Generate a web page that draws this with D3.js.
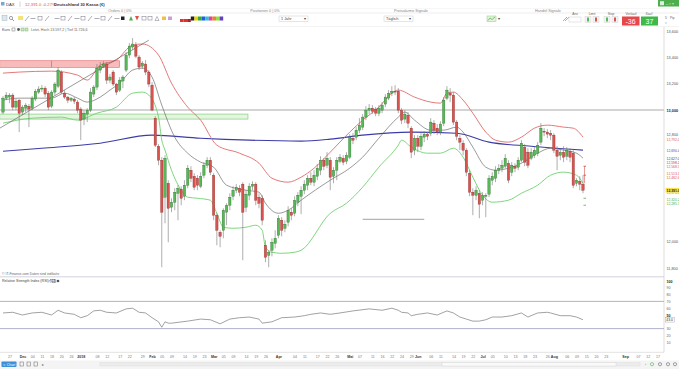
<!DOCTYPE html>
<html><head><meta charset="utf-8">
<script src="https://cdn.jsdelivr.net/npm/d3@7"></script>
<style>
html,body{margin:0;padding:0;background:#fff;overflow:hidden}
svg{display:block;font-family:"Liberation Sans",Arial,sans-serif}
</style></head><body>
<svg id="c" width="679" height="369"></svg>
<script>
// ---------------- DATA ----------------
const open = [12984,13090,13098,13113,13022,13075,12984,13014,13029,13014,
13083,13136,13159,13166,13128,13029,13136,13181,13288,13128,
13098,13075,13083,13060,13007,12931,12969,12999,13121,13174,
13303,13333,13349,13227,13288,13197,13151,13220,13303,13417,
13478,13493,13402,13333,13349,13288,13189,12938,12725,12619,
12338,12444,12262,12300,12368,12399,12345,12429,12543,12497,
12482,12421,12505,12581,12619,12505,12201,12072,12087,12224,
12277,12345,12391,12406,12437,12262,12353,12421,12437,12338,
12330,11973,11897,11935,11988,12049,12163,12102,12148,12224,
12216,12300,12345,12391,12429,12482,12452,12497,12543,12619,
12581,12619,12497,12543,12611,12634,12611,12642,12786,12794,
12847,12870,12946,12999,13014,13007,12976,12999,13045,13090,
13128,13143,13143,12999,12931,12961,12862,12695,12786,12725,
12794,12817,12824,12900,12862,12832,12900,13090,13128,13113,
12908,12786,12748,12695,12520,12376,12353,12368,12315,12345,
12361,12467,12482,12543,12558,12573,12596,12528,12573,12566,
12619,12718,12680,12634,12657,12672,12756,12839,12832,12824,
12809,12695,12657,12680,12649,12687,12672,12444,12459,12437];
const close = [13090,13113,13113,13022,13067,12976,13022,13037,13007,13090,
13143,13159,13166,13121,13022,13136,13197,13303,13136,13098,
13075,13090,13067,12999,12923,12976,12999,13136,13174,13318,
13333,13349,13227,13250,13197,13136,13227,13250,13417,13485,
13501,13409,13326,13356,13288,13197,12999,12733,12619,12224,
12634,12254,12300,12376,12406,12330,12429,12558,12482,12414,
12429,12497,12581,12619,12528,12201,12087,12041,12239,12277,
12338,12391,12414,12376,12224,12361,12421,12437,12315,12292,
12163,11882,11920,11996,12026,12178,12087,12133,12239,12201,
12315,12353,12391,12437,12482,12452,12505,12558,12619,12573,
12634,12490,12543,12619,12642,12604,12657,12794,12771,12847,
12885,12946,12999,13014,12991,12976,13014,13037,13098,13128,
13143,13136,12999,12923,12969,12900,12680,12786,12725,12801,
12817,12801,12908,12847,12832,12893,13075,13151,13113,12908,
12801,12756,12695,12528,12376,12353,12391,12285,12353,12353,
12482,12497,12543,12558,12581,12634,12467,12581,12558,12619,
12748,12604,12581,12680,12695,12733,12862,12832,12817,12809,
12695,12649,12680,12642,12695,12642,12429,12467,12437,12391];
const high = [13105,13136,13128,13128,13083,13083,13037,13052,13045,13105,
13159,13181,13189,13181,13143,13151,13212,13326,13303,13151,
13105,13098,13098,13075,13022,12999,13014,13166,13189,13349,
13364,13371,13364,13273,13303,13204,13250,13265,13440,13508,
13546,13516,13417,13371,13379,13303,13212,12953,12741,12642,
12657,12467,12330,12406,12429,12421,12467,12581,12573,12520,
12505,12528,12604,12642,12642,12520,12216,12087,12254,12292,
12368,12421,12437,12429,12452,12391,12444,12459,12452,12368,
12353,12011,11935,12026,12087,12201,12186,12163,12269,12254,
12345,12376,12421,12467,12505,12528,12543,12589,12649,12634,
12680,12642,12566,12642,12665,12657,12680,12817,12824,12870,
12938,12969,13029,13045,13037,13022,13037,13060,13121,13151,
13181,13189,13166,13014,12999,12984,12877,12809,12809,12824,
12839,12832,12938,12923,12893,12915,13098,13181,13166,13136,
12923,12809,12771,12710,12543,12406,12421,12391,12376,12368,
12505,12528,12573,12589,12619,12665,12619,12604,12596,12642,
12771,12741,12710,12710,12718,12756,12900,12862,12855,12847,
12824,12725,12710,12725,12718,12710,12695,12482,12497,12505];
const low = [12969,13075,13052,12999,12999,12832,12961,12984,12870,12999,
13067,13121,13136,13098,12999,13014,13113,13166,13121,13083,
13052,13060,13045,12976,12771,12885,12908,12984,13098,13151,
13280,13318,13197,13204,13181,13113,13136,13166,13288,13394,
13455,13394,13303,13311,13265,13174,12991,12718,12581,11806,
12140,11996,12224,12239,12163,12277,12315,12406,12452,12391,
12391,12406,12482,12558,12505,12163,11973,11958,12026,12125,
12239,12315,12368,12345,11859,12224,12315,12391,12277,12254,
12125,11844,11806,11889,11950,12026,12041,12072,12117,12163,
12193,12269,12209,12361,12391,12429,12421,12467,12505,12543,
12558,12391,12444,12467,12596,12581,12589,12627,12741,12771,
12824,12847,12923,12969,12969,12953,12953,12976,13022,13075,
13105,13113,12976,12893,12900,12862,12634,12657,12680,12695,
12756,12771,12801,12817,12809,12809,12877,13075,13060,12885,
12771,12695,12657,12497,12345,12201,12315,12178,12277,12186,
12338,12429,12452,12513,12528,12558,12444,12497,12528,12543,
12604,12573,12558,12619,12634,12649,12733,12801,12786,12771,
12672,12543,12619,12604,12619,12604,12406,12421,12391,12368];

// Bollinger upper / middle / lower (read at candle indices)
const upperIdx = [0,5,15,23,26,30,35,40,43,48,52,57,61,66,73,79,83,88,92,96,101,107,111,116,120,122,127,132,135,137,139,142,145,149,152,156,160,164,168,173,176,179];
const upperVal = [13280,13288,13295,13265,13227,13341,13379,13493,13501,13417,13204,13022,12923,12733,12672,12596,12482,12452,12490,12558,12680,12832,12923,13022,13128,13151,13098,13060,13052,13128,13136,13075,12976,12832,12771,12756,12794,12862,12885,12870,12862,12794];
const midIdx = [0,5,15,19,23,26,30,33,36,40,43,46,49,53,57,61,65,69,75,79,81,85,88,92,101,107,111,116,122,124,127,132,136,140,142,145,149,152,156,160,165,169,173,177,179];
const midVal = [13075,13090,13090,13128,13090,13060,13098,13151,13204,13303,13318,13250,13037,12794,12672,12604,12566,12429,12391,12376,12292,12216,12239,12315,12467,12558,12642,12786,12946,12984,12923,12847,12847,12870,12832,12718,12566,12543,12558,12596,12672,12710,12695,12672,12634];
const lowerIdx = [0,9,18,23,29,35,40,43,45,48,49,50,52,55,57,60,64,66,68,71,75,78,80,81,83,86,90,92,101,106,111,116,122,123,126,131,135,139,142,145,148,151,156,160,165,169,173,177,179];
const lowerVal = [12900,12938,12946,12923,12976,13022,13128,13136,13113,12946,12771,12695,12543,12391,12338,12330,12315,12216,12110,12102,12110,12125,12087,11958,11920,11912,11920,11935,12216,12292,12414,12566,12733,12771,12718,12672,12672,12710,12642,12490,12353,12300,12315,12368,12429,12505,12528,12505,12444];
// long moving average (blue)
const maIdx = [0,12,30,46,61,76,92,101,111,126,140,150,163,179];
const maVal = [12687,12710,12748,12809,12786,12771,12764,12779,12809,12832,12824,12756,12725,12695];
// RSI (14)
const rsiIdx = [0,3,6,9,12,15,17,19,22,24,26,28,30,32,35,38,40,42,44,46,48,49,50,51,52,57,61,64,67,70,73,76,79,80,83,86,90,93,95,98,101,104,108,113,117,120,122,123,125,126,128,131,134,137,139,141,143,145,147,149,151,154,157,160,162,165,168,169,172,175,177,179];
const rsiVal = [53,54,50,53,54,50,57,53,51,46,49,56,57,54,53,59,60,54,53,46,40,32,40,38,38,41,44,43,37,44,46,47,44,38,40,46,47,49,51,53,51,53,56,59,57,60,57,54,53,49,51,53,50,56,53,47,44,41,41,43,47,47,49,53,47,53,54,53,49,49,47,43];

// drawn objects
const resistZone = [13324, 13374];    // red box
const resistIdx = [-1, 36];
const supportZone = [12931, 12969];   // green box
const supportIdx = [-1, 75.6];
const levelLine = 13000;
const shortLine = {from:111, to:130, value:12170};
const trendLine = [[-1, 12862], [45, 13530]];

// axes
const priceTicks = [13600, 13400, 13200, 13000, 12800, 12000, 11800];
const rsiTicks = [100, 90, 80, 70, 60, 50, 30, 20, 10];
const rsiLevels = [70, 30];
const dateLabels = ['27','Dec','04','11','18','20','26','2018','08','12','17','22','29','Feb','05','09','14','19','23','Mar','05','09','14','19','26','Apr','04','11','17','22','26','Mai','07','11','16','22','24','29','Jun','06','11','14','19','22','Jul','05','10','13','18','23','26','Aug','06','09','15','20','23','Sep','07','12','17'];
const dateIdx = [2,6,9,12,15,18,21,24,29,32,36,39,43,46,49,52,56,59,62,65,68,71,75,78,81,85,90,93,97,100,103,107,110,114,117,120,123,126,128,132,135,139,142,145,148,151,155,158,161,164,168,170,174,177,180,183,186,192,196,199,202];
const monthNames = ['Dec','2018','Feb','Mar','Apr','Mai','Jun','Jul','Aug','Sep'];
// value tags on the price axis
const tagVals = [12792.0, 12690.4, 12627.0, 12598.2, 12568.5, 12513.1, 12482.6, 12370.4, 12320.2, 12285.7];
const tagColors = ['#d9534f','#4a4aaa','#444','#b03a2e','#e05555','#e05555','#e05555','#4cae4c','#4cae4c','#4cae4c'];
const orderMarks = [12573, 12505, 12330, 12277];
const orderColors = ['#d9534f','#d9534f','#5cb85c','#5cb85c'];

// ---------------- DRAW ----------------
const svg = d3.select('#c');
const x = d3.scaleLinear().domain([0, 179]).range([3, 583]);
const y = d3.scaleLinear().domain([13000, 12000]).range([110, 241.7]);
const yr = d3.scaleLinear().domain([0, 100]).range([349, 281]);
const AX = 664;

function txt(px, py, s, o = {}) {
  return svg.append('text').attr('x', px).attr('y', py).text(s)
    .attr('font-size', o.size || 4.5).attr('fill', o.fill || '#555')
    .attr('font-weight', o.bold ? 'bold' : null)
    .attr('text-anchor', o.anchor || 'start');
}

// ---- header ----
svg.append('rect').attr('x',1).attr('y',2).attr('width',3.5).attr('height',3.5).attr('fill','#7aa7d6');
txt(6, 6, 'DAX', {fill:'#333', size:4.2});
svg.append('line').attr('x1',20).attr('x2',20).attr('y1',1.5).attr('y2',7).attr('stroke','#bbb').attr('stroke-width',0.6);
txt(25, 6, '12,391.0  -0.27%', {fill:'#d9534f', size:4.2});
txt(54, 6, 'Deutschland 30 Kassa (€)', {fill:'#333', size:4.2, bold:true});
// top-right green button
svg.append('rect').attr('x',658).attr('y',0).attr('width',21).attr('height',6.5).attr('fill','#4cae4c');
svg.append('rect').attr('x',660).attr('y',1.2).attr('width',4).attr('height',4).attr('fill','#fff').attr('opacity',0.8);
txt(666, 5, '– ▫ ×', {fill:'#fff', size:4});

// tab row
svg.append('line').attr('x1',0).attr('x2',679).attr('y1',13).attr('y2',13).attr('stroke','#e2e2e2').attr('stroke-width',0.6);
svg.append('line').attr('x1',0).attr('x2',679).attr('y1',8.5).attr('y2',8.5).attr('stroke','#eee').attr('stroke-width',0.5);
txt(120, 11.5, 'Orders  0  |  0%', {anchor:'middle', size:3.8, fill:'#888'});
txt(265, 11.5, 'Positionen  0  |  0%', {anchor:'middle', size:3.8, fill:'#888'});
txt(411, 11.5, 'Preisalarme Signale', {anchor:'middle', size:3.8, fill:'#888'});
txt(548, 11.5, 'Handel Signale', {anchor:'middle', size:3.8, fill:'#888'});

// toolbar icons
const tb = svg.append('g');
tb.append('rect').attr('x',2).attr('y',15.5).attr('width',5).attr('height',5).attr('fill','#dde7f2').attr('stroke','#8aa').attr('stroke-width',0.4);
tb.append('circle').attr('cx',11).attr('cy',18).attr('r',1.6).attr('fill','none').attr('stroke','#667').attr('stroke-width',0.6);
tb.append('line').attr('x1',12.2).attr('y1',19.2).attr('x2',14).attr('y2',21).attr('stroke','#667').attr('stroke-width',0.7);
tb.append('rect').attr('x',18).attr('y',16).attr('width',5).attr('height',4).attr('fill','#f3e27a');
const iconXs = [27,33,40,47,57,63,70,77,83,90,97,103,110,117];
iconXs.forEach((ix, k) => {
  if (k % 3 === 0) tb.append('line').attr('x1',ix-2).attr('y1',21).attr('x2',ix+2).attr('y2',16).attr('stroke','#778').attr('stroke-width',0.6);
  else if (k % 3 === 1) tb.append('line').attr('x1',ix-2.5).attr('y1',18.5).attr('x2',ix+2.5).attr('y2',18.5).attr('stroke','#778').attr('stroke-width',0.6);
  else tb.append('rect').attr('x',ix-2).attr('y',16.5).attr('width',4).attr('height',3.5).attr('fill','none').attr('stroke','#778').attr('stroke-width',0.5);
});
tb.append('rect').attr('x',121).attr('y',16.5).attr('width',3.5).attr('height',3.5).attr('fill','#222');
tb.append('path').attr('d','M129,20.5 L131,16 L133,20.5 Z').attr('fill','#4cae4c');
tb.append('path').attr('d','M135,16 L137,20.5 L139,16 Z').attr('fill','#d9534f');
tb.append('rect').attr('x',142).attr('y',16.5).attr('width',4).attr('height',3.5).attr('fill','none').attr('stroke','#778').attr('stroke-width',0.5);
tb.append('rect').attr('x',148).attr('y',16.5).attr('width',4).attr('height',3.5).attr('fill','none').attr('stroke','#778').attr('stroke-width',0.5);
tb.append('path').attr('d','M155,20.5 L157,16.5 L159,20.5 Z').attr('fill','none').attr('stroke','#778').attr('stroke-width',0.5);
tb.append('rect').attr('x',162).attr('y',16.5).attr('width',4).attr('height',3.5).attr('fill','#f0c040');
tb.append('rect').attr('x',168).attr('y',16.5).attr('width',4).attr('height',3.5).attr('fill','#c9a0dc');
const pal = ['#e03030','#e03030','#b02020','#222','#f5d000','#30b030','#2060e0','#30c0e0','#e040a0','#f08030','#90e040','#6040c0'];
pal.forEach((c, k) => tb.append('rect').attr('x',180 + k*3.6).attr('y', k<3?19:16.5).attr('width',3.6).attr('height', k<3?3:4).attr('fill',c));
// dropdowns
function drop(x0, w, label){
  svg.append('rect').attr('x',x0).attr('y',16).attr('width',w).attr('height',5.5).attr('fill','#fff').attr('stroke','#ccc').attr('stroke-width',0.5);
  txt(x0+2, 20.2, label, {size:3.8, fill:'#444'});
  txt(x0+w-3, 20.2, '▾', {size:3.8, fill:'#444', anchor:'middle'});
}
drop(279, 29, '1 Jahr');
drop(384, 29, 'Täglich');
svg.append('rect').attr('x',487).attr('y',16).attr('width',9).attr('height',5.5).attr('fill','#e4f2da').attr('stroke','#8c8').attr('stroke-width',0.5);
svg.append('path').attr('d','M488,20.5 L490,18 L492,19.5 L495,17').attr('fill','none').attr('stroke','#3a3').attr('stroke-width',0.6);
txt(498, 20.2, '▾', {size:3.8, fill:'#444'});
// trade panel
svg.append('path').attr('d','M563,21 L567,17 M565,21 L569,17').attr('stroke','#777').attr('stroke-width',0.6);
txt(575, 14.5, 'Anz', {size:3.2, fill:'#666', anchor:'middle'});
svg.append('rect').attr('x',569).attr('y',17).attr('width',12).attr('height',5).attr('fill','#fff').attr('stroke','#ccc').attr('stroke-width',0.5);
txt(592, 14.5, 'Limit', {size:3.2, fill:'#666', anchor:'middle'});
txt(611, 14.5, 'Stop', {size:3.2, fill:'#666', anchor:'middle'});
[585, 593, 604, 612].forEach((bx, k) => {
  svg.append('rect').attr('x',bx).attr('y',16.5).attr('width',6).attr('height',6).attr('fill','#f4f4f4').attr('stroke','#ccc').attr('stroke-width',0.4);
  svg.append('rect').attr('x',bx+2).attr('y',17.5).attr('width',2).attr('height',4).attr('fill', k%2 ? '#d9534f' : '#5cb85c');
});
txt(631, 14.5, 'Verkauf', {size:3.2, fill:'#666', anchor:'middle'});
txt(649, 14.5, 'Kauf', {size:3.2, fill:'#666', anchor:'middle'});
svg.append('rect').attr('x',622).attr('y',16.5).attr('width',17.5).attr('height',9).attr('fill','#e8474a');
svg.append('rect').attr('x',641).attr('y',16.5).attr('width',17).attr('height',9).attr('fill','#3fb84a');
txt(630.5, 24, '-36', {size:7, fill:'#fff', anchor:'middle'});
txt(649.5, 24, '37', {size:7, fill:'#fff', anchor:'middle'});
txt(665, 19, '5', {size:3.5, fill:'#666'});
txt(670, 19, 'Pip', {size:3.2, fill:'#666'});
txt(665, 24, '↕', {size:3.5, fill:'#666'});
svg.append('line').attr('x1',0).attr('x2',679).attr('y1',26.5).attr('y2',26.5).attr('stroke','#e6e6e6').attr('stroke-width',0.5);

// chart label row
txt(2, 31, 'Kurs', {size:3.8, fill:'#444'});
svg.append('rect').attr('x',12).attr('y',28).attr('width',3).attr('height',3).attr('fill','none').attr('stroke','#555').attr('stroke-width',0.4);
svg.append('circle').attr('cx',18.5).attr('cy',29.5).attr('r',1.4).attr('fill','#555');
svg.append('rect').attr('x',21).attr('y',28).attr('width',3).attr('height',3).attr('fill','#cde8c0').attr('stroke','#6a6').attr('stroke-width',0.4);
svg.append('rect').attr('x',25).attr('y',28).attr('width',3).attr('height',3).attr('fill','#cde8c0').attr('stroke','#6a6').attr('stroke-width',0.4);
txt(31, 31, 'Letzt. Hoch 13.597,2  |  Tief 11.726,6', {size:3.6, fill:'#666'});

// ---- price pane ----
const pane = svg.append('g');
svg.append('line').attr('x1',AX).attr('x2',AX).attr('y1',27).attr('y2',352).attr('stroke','#cfcfcf').attr('stroke-width',0.7);

[[resistIdx[0], 15], [15, resistIdx[1]]].forEach(([a, b]) => {
  pane.append('rect').attr('x', x(a)).attr('y', y(resistZone[1]))
    .attr('width', x(b) - x(a)).attr('height', y(resistZone[0]) - y(resistZone[1]))
    .attr('fill', '#f6a4a4').attr('fill-opacity', 0.75).attr('stroke', '#e26b6b').attr('stroke-width', 0.6);
});
pane.append('rect').attr('x', x(supportIdx[0])).attr('y', y(supportZone[1]))
  .attr('width', x(supportIdx[1]) - x(supportIdx[0])).attr('height', y(supportZone[0]) - y(supportZone[1]))
  .attr('fill', '#e6f5e0').attr('stroke', '#7fcf7f').attr('stroke-width', 0.7);
pane.append('line').attr('x1', 0).attr('x2', AX).attr('y1', y(levelLine)).attr('y2', y(levelLine))
  .attr('stroke', '#a9a9a9').attr('stroke-width', 1.1);
pane.append('line').attr('x1', x(shortLine.from)).attr('x2', x(shortLine.to))
  .attr('y1', y(shortLine.value)).attr('y2', y(shortLine.value)).attr('stroke', '#8a8a8a').attr('stroke-width', 0.8);

function series(idx, val) { return idx.map((d, i) => [d, val[i]]); }
const lineGen = d3.line().x(d => x(d[0])).y(d => y(d[1])).curve(d3.curveMonotoneX);
pane.append('path').attr('d', lineGen(series(maIdx, maVal))).attr('fill','none').attr('stroke','#3c3ca8').attr('stroke-width',1.1);
pane.append('path').attr('d', lineGen(series(upperIdx, upperVal))).attr('fill','none').attr('stroke','#e06a6a').attr('stroke-width',0.9);
pane.append('path').attr('d', lineGen(series(lowerIdx, lowerVal))).attr('fill','none').attr('stroke','#6fd16f').attr('stroke-width',0.9);
pane.append('path').attr('d', lineGen(series(midIdx, midVal))).attr('fill','none').attr('stroke','#555').attr('stroke-width',0.6);
pane.append('line').attr('x1', x(trendLine[0][0])).attr('y1', y(trendLine[0][1]))
  .attr('x2', x(trendLine[1][0])).attr('y2', y(trendLine[1][1])).attr('stroke', '#555').attr('stroke-width', 0.6);

// candles
const cd = d3.range(close.length).map(i => ({i, o: open[i], h: high[i], l: low[i], c: close[i]}));
const cg = pane.append('g');
cg.selectAll('line.w').data(cd).join('line')
  .attr('x1', d => x(d.i)).attr('x2', d => x(d.i)).attr('y1', d => y(d.h)).attr('y2', d => y(d.l))
  .attr('stroke', '#777').attr('stroke-width', 0.6);
cg.selectAll('rect.b').data(cd).join('rect')
  .attr('x', d => x(d.i) - 1.2).attr('width', 2.4)
  .attr('y', d => y(Math.max(d.o, d.c)))
  .attr('height', d => Math.max(0.7, Math.abs(y(d.o) - y(d.c))))
  .attr('fill', d => d.c >= d.o ? '#56b856' : '#d9534f')
  .attr('stroke', d => d.c >= d.o ? '#2f6f2f' : '#8b2f2c').attr('stroke-width', 0.35);

orderMarks.forEach((v, k) => {
  pane.append('line').attr('x1', x(179) + 0.5).attr('x2', x(179) + 3).attr('y1', y(v)).attr('y2', y(v))
    .attr('stroke', orderColors[k]).attr('stroke-width', 0.9);
});
pane.append('line').attr('x1', x(179) + 1.5).attr('x2', x(179) + 1.5).attr('y1', y(orderMarks[0])).attr('y2', y(orderMarks[1]) + 8)
  .attr('stroke', '#d9534f').attr('stroke-width', 0.6);

// price axis
const pAxis = d3.axisRight(y).tickValues(priceTicks).tickSize(0).tickPadding(2.5).tickFormat(d3.format(','));
const pa = svg.append('g').attr('transform', `translate(${AX},0)`).call(pAxis);
pa.select('.domain').remove();
pa.selectAll('text').attr('font-size', 3.8).attr('font-family', '"Liberation Sans",Arial,sans-serif')
  .attr('font-weight', d => d === 13000 ? 'bold' : null).attr('fill', d => d === 13000 ? '#222' : '#555')
  .attr('dy', d => d === 12800 ? '-0.1em' : '0.32em');
// value tags
const fmt1 = d3.format(',.1f');
tagVals.forEach((v, k) => txt(AX + 2.5, y(v) + (k === 0 ? 3.6 : 1.3), fmt1(v), {size: 3.4, fill: tagColors[k]}));
const last = close[close.length - 1];
svg.append('rect').attr('x', AX + 1.5).attr('y', y(last) - 2.4).attr('width', 13.5).attr('height', 4.8).attr('fill', '#ffe24a');
txt(AX + 2.5, y(last) + 1.3, fmt1(last), {size: 3.4, fill: '#222', bold: true});

// ---- footer texts of price pane ----
txt(2, 275, '© IT-Finance.com  Daten sind indikativ', {size: 3.4, fill: '#666'});
svg.append('line').attr('x1', 0).attr('x2', AX).attr('y1', 276.8).attr('y2', 276.8).attr('stroke', '#c8c8d4').attr('stroke-width', 0.8);
txt(2, 282, 'Relative Strength Index (RSI) (14)', {size: 3.6, fill: '#444'});
svg.append('path').attr('d','M49,281.5 L51,279 M52,279.5 h3 v3 h-3 z').attr('fill','none').attr('stroke','#555').attr('stroke-width',0.5);
svg.append('circle').attr('cx',58).attr('cy',281).attr('r',1.3).attr('fill','#555');

// ---- RSI pane ----
rsiLevels.forEach(v => svg.append('line').attr('x1', 0).attr('x2', AX).attr('y1', yr(v)).attr('y2', yr(v))
  .attr('stroke', '#a9a9c9').attr('stroke-width', 0.9));
const rsiLine = d3.line().x(d => x(d[0])).y(d => yr(d[1]));
svg.append('path').attr('d', rsiLine(series(rsiIdx, rsiVal))).attr('fill', 'none').attr('stroke', '#7a7a7a').attr('stroke-width', 0.7);
const rAxis = d3.axisRight(yr).tickValues(rsiTicks).tickSize(0).tickPadding(2.5);
const ra = svg.append('g').attr('transform', `translate(${AX},0)`).call(rAxis);
ra.select('.domain').remove();
ra.selectAll('text').attr('font-size', 3.6).attr('font-family', '"Liberation Sans",Arial,sans-serif')
  .attr('fill', d => (d === 100 || d === 50) ? '#222' : '#666').attr('font-weight', d => (d === 100 || d === 50) ? 'bold' : null);
const rLast = rsiVal[rsiVal.length - 1];
svg.append('rect').attr('x', AX + 1.5).attr('y', yr(rLast) - 2.3).attr('width', 9).attr('height', 4.6).attr('fill', '#fff').attr('stroke', '#999').attr('stroke-width', 0.4);
txt(AX + 2.3, yr(rLast) + 1.3, d3.format('.1f')(rLast), {size: 3.4, fill: '#333'});
svg.append('line').attr('x1', 0).attr('x2', AX).attr('y1', 352.3).attr('y2', 352.3).attr('stroke', '#cfcfcf').attr('stroke-width', 0.6);

// ---- date axis ----
const dAxis = d3.axisBottom(x).tickValues(dateIdx).tickSize(0).tickPadding(3.2)
  .tickFormat((d, i) => dateLabels[i]);
const da = svg.append('g').attr('transform', 'translate(0,352.3)').call(dAxis);
da.select('.domain').remove();
da.selectAll('text').attr('font-size', 3.6).attr('font-family', '"Liberation Sans",Arial,sans-serif')
  .attr('fill', (d, i) => monthNames.includes(dateLabels[i]) ? '#333' : '#777')
  .attr('font-weight', (d, i) => monthNames.includes(dateLabels[i]) ? 'bold' : null);

// ---- bottom bar ----
svg.append('rect').attr('x', 0).attr('y', 360.5).attr('width', 679).attr('height', 8.5).attr('fill', '#f4f4f4');
svg.append('rect').attr('x', 1.5).attr('y', 361.5).attr('width', 15).attr('height', 5.5).attr('rx', 0.8).attr('fill', '#3d8fd6');
txt(9, 365.6, '⊂ Chart', {size: 3.4, fill: '#fff', anchor: 'middle'});
[20, 27, 34, 42].forEach((bx, k) => {
  if (k < 3) svg.append('rect').attr('x', bx).attr('y', 362).attr('width', 3.6).attr('height', 4).attr('fill', 'none').attr('stroke', '#666').attr('stroke-width', 0.5);
  else txt(bx, 366, '▸', {size: 3.6, fill: '#777'});
});
svg.append('rect').attr('x', 100).attr('y', 362.5).attr('width', 540).attr('height', 3.5).attr('fill', '#ececec').attr('stroke', '#ddd').attr('stroke-width', 0.4);
svg.append('rect').attr('x', 442).attr('y', 362.5).attr('width', 174).attr('height', 3.5).attr('fill', '#fafafa').attr('stroke', '#cfcfcf').attr('stroke-width', 0.4);
[645, 652, 660, 668, 675].forEach((bx, k) => {
  if (k === 0) txt(bx, 366, '‹', {size: 3.6, fill: '#777'});
  else svg.append('circle').attr('cx', bx).attr('cy', 364.2).attr('r', 1.6).attr('fill', 'none').attr('stroke', k === 1 ? '#4cae4c' : '#666').attr('stroke-width', 0.6);
});
</script>
</body></html>
